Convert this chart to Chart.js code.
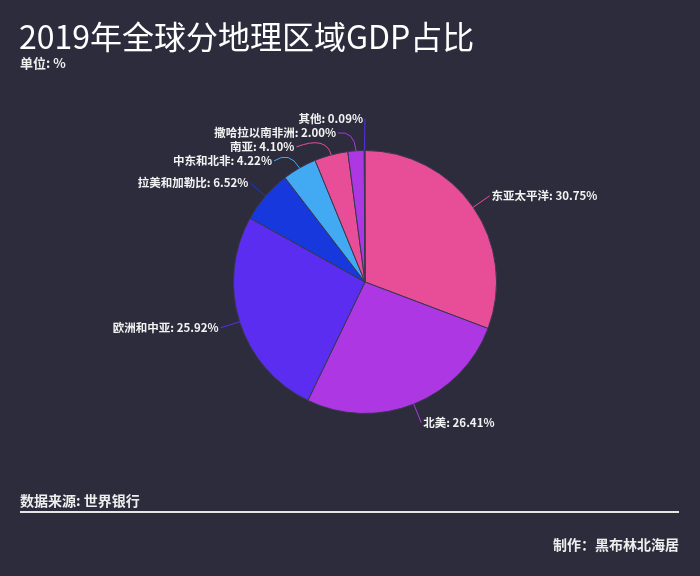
<!DOCTYPE html>
<html><head><meta charset="utf-8">
<script src="https://cdn.jsdelivr.net/npm/chart.js@4/dist/chart.umd.min.js"></script>
<style>
html,body{margin:0;padding:0;background:#2d2c3d;}
#wrap{position:relative;width:700px;height:576px;}
canvas{display:block;}
</style></head>
<body><div id="wrap"><canvas id="c" width="700" height="576"></canvas></div>
<script>
const categories = ['东亚太平洋','北美','欧洲和中亚','拉美和加勒比','中东和北非','南亚','撒哈拉以南非洲','其他'];
const shares = [30.75, 26.41, 25.92, 6.52, 4.22, 4.10, 2.00, 0.09];
const palette = ['#e84e97','#ac37e3','#5a2df0','#1638dc','#42aaf3'];
const titleText = '2019年全球分地理区域GDP占比';
const subtitleText = '单位: %';
const sourceText = '数据来源: 世界银行';
const creditText = '制作：黑布林北海居';

const FONT = '"Noto Sans CJK SC","Noto Sans",sans-serif';
const colors = categories.map((_, i) => palette[i % palette.length]);

const labelPlugin = {
  id: 'outsideLabels',
  afterDatasetsDraw(chart) {
    const ctx = chart.ctx;
    const meta = chart.getDatasetMeta(0);
    const items = [];
    meta.data.forEach((arc, i) => {
      const mid = (arc.startAngle + arc.endAngle) / 2;
      const cx = arc.x, cy = arc.y, r = arc.outerRadius;
      const R = r + 20;
      const dx = Math.cos(mid), dy = Math.sin(mid);
      items.push({
        i, cx, cy, r, R, dx, dy,
        x0: cx + r * dx, y0: cy + r * dy,
        x1: cx + R * dx, y1: cy + R * dy,
        side: dx < -1e-6 || (Math.abs(dx) < 1e-3 && i > 0) ? -1 : 1,
        text: categories[i] + ': ' + shares[i].toFixed(2) + '%'
      });
    });
    const gap = 14;
    [-1, 1].forEach(side => {
      const arr = items.filter(it => it.side === side).sort((a, b) => a.y1 - b.y1);
      let clusters = arr.map(it => ({items: [it], mean: it.y1}));
      const pos = c => { const n = c.items.length; return c.mean - (n - 1) * gap / 2 + (n > 1 ? 3 : 0); };
      let merged = true;
      while (merged) {
        merged = false;
        for (let k = 0; k < clusters.length - 1; k++) {
          const a = clusters[k], b = clusters[k + 1];
          const aEnd = pos(a) + (a.items.length - 1) * gap;
          if (pos(b) - aEnd < gap) {
            const all = a.items.concat(b.items);
            const mean = all.reduce((s, it) => s + it.y1, 0) / all.length;
            clusters.splice(k, 2, {items: all, mean});
            merged = true;
            break;
          }
        }
      }
      clusters.forEach(c => {
        const p = pos(c);
        c.items.forEach((it, j) => {
          it.ly = p + j * gap;
          const ddy = Math.abs(it.ly - it.cy);
          const ddx = ddy < it.R ? Math.sqrt(it.R * it.R - ddy * ddy) : 0;
          it.lx = it.cx + side * ddx;
        });
      });
    });
    ctx.save();
    ctx.font = 'bold 11.5px ' + FONT;
    ctx.textBaseline = 'middle';
    items.forEach(it => {
      ctx.strokeStyle = colors[it.i];
      ctx.lineWidth = 1;
      ctx.beginPath();
      ctx.moveTo(it.x0, it.y0);
      const shifted = Math.abs(it.ly - it.y1) > 1;
      if (shifted) {
        ctx.quadraticCurveTo(it.x1, it.y1, it.lx, it.ly);
      } else {
        ctx.lineTo(it.lx, it.ly);
      }
      ctx.stroke();
      ctx.fillStyle = '#f2f2f2';
      ctx.textAlign = it.side < 0 ? 'right' : 'left';
      ctx.fillText(it.text, it.lx + it.side * 2, it.ly);
    });
    ctx.restore();
  }
};

const decorPlugin = {
  id: 'decor',
  afterDraw(chart) {
    const ctx = chart.ctx;
    ctx.save();
    ctx.fillStyle = '#ffffff';
    ctx.textBaseline = 'alphabetic';
    ctx.textAlign = 'left';
    ctx.font = '32px ' + FONT;
    ctx.fillText(titleText, 19, 49);
    ctx.fillStyle = '#eeeeee';
    ctx.font = 'bold 13px ' + FONT;
    ctx.fillText(subtitleText, 20, 68);
    ctx.font = 'bold 14px ' + FONT;
    ctx.fillText(sourceText, 20, 506);
    ctx.textAlign = 'right';
    ctx.fillText(creditText, 679, 550);
    ctx.strokeStyle = '#e6e6e6';
    ctx.lineWidth = 2;
    ctx.beginPath();
    ctx.moveTo(20, 512);
    ctx.lineTo(679, 512);
    ctx.stroke();
    ctx.restore();
  }
};

new Chart(document.getElementById('c'), {
  type: 'pie',
  data: {
    labels: categories,
    datasets: [{
      data: shares,
      backgroundColor: colors,
      borderColor: '#3a384e',
      borderWidth: 1
    }]
  },
  options: {
    responsive: false,
    animation: false,
    layout: {padding: {top: 150, bottom: 162, left: 100, right: 70}},
    plugins: {legend: {display: false}, tooltip: {enabled: false}, title: {display: false}}
  },
  plugins: [labelPlugin, decorPlugin]
});
</script></body></html>
